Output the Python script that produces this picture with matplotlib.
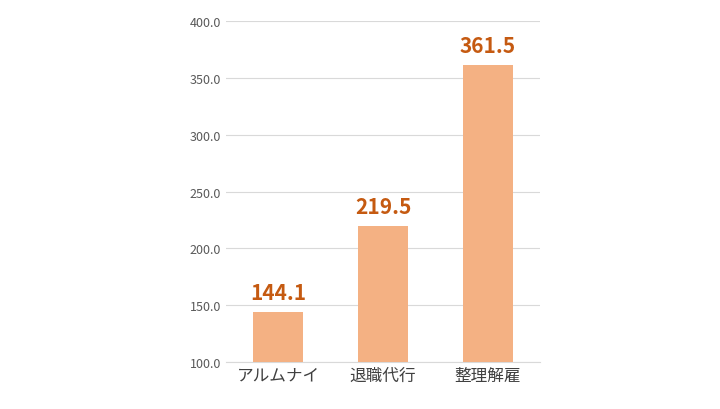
import matplotlib
matplotlib.use("Agg")
import matplotlib.pyplot as plt

plt.rcParams['font.family'] = ['Noto Sans CJK JP', 'DejaVu Sans']

categories = ["アルムナイ", "退職代行", "整理解雇"]
values = [144.1, 219.5, 361.5]
yticks = [100, 150, 200, 250, 300, 350, 400]

fig = plt.figure(figsize=(7.2, 4.1), dpi=100)
ax = fig.add_axes([0.314, 0.1146, 0.436, 0.8317])
x = range(len(categories))
ax.bar(x, values, width=0.476, color="#F4B183", zorder=3)
for xi, v in zip(x, values):
    ax.text(xi, v + 8, f"{v:.1f}", ha="center", va="bottom", color="#C55A11",
            fontsize=15, fontweight="bold")
ax.set_ylim(100, 400)
ax.set_xlim(-0.495, 2.495)
ax.set_yticks(yticks)
ax.set_yticklabels([f"{t:.1f}" for t in yticks], color="#595959", fontsize=9)
ax.set_xticks(list(x))
ax.set_xticklabels(categories, fontsize=12, color="#404040")
ax.tick_params(length=0)
ax.yaxis.grid(True, color="#D9D9D9", linewidth=0.8, zorder=0)
for s in ["top", "right", "left"]:
    ax.spines[s].set_visible(False)
ax.spines["bottom"].set_color("#D9D9D9")
fig.savefig("out.png", dpi=100)
